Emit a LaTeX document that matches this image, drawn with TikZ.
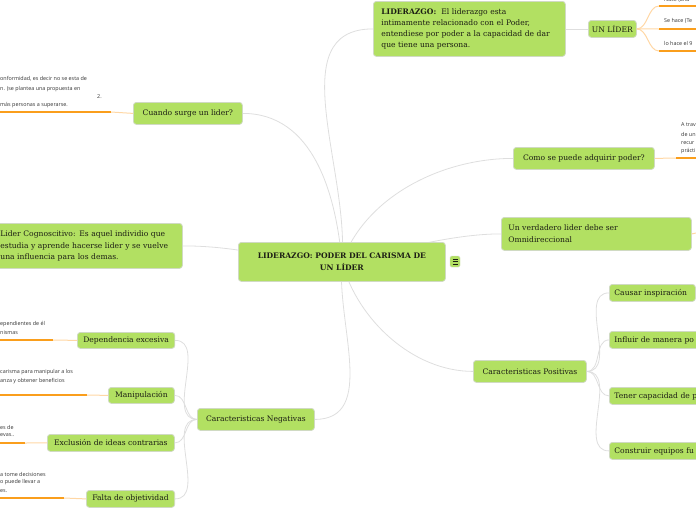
\documentclass[tikz,border=0pt]{standalone}
\usepackage{fontspec}
\setmainfont{DejaVu Serif}
\newfontfamily\notefont{Open Sans}
\usetikzlibrary{backgrounds}
\definecolor{boxgreen}{RGB}{178,224,98}
\definecolor{boxline}{RGB}{208,218,195}
\definecolor{conn}{RGB}{222,222,222}
\definecolor{org}{RGB}{250,158,28}
\definecolor{orgl}{RGB}{255,215,165}
\definecolor{txt}{RGB}{28,30,20}
\begin{document}
\begin{tikzpicture}[x=1pt,y=-1pt,
  box/.style={draw=boxline, line width=0.8pt, fill=boxgreen, rounded corners=3pt,
    text=txt, font=\fontsize{7.6}{11}\selectfont, inner xsep=6pt, inner ysep=0pt, anchor=north west},
  lbox/.style={box, align=left},
  note/.style={font=\notefont\fontsize{5.4}{8}\selectfont, text=black!80, inner sep=0pt, anchor=west},
  conline/.style={draw=conn, line width=0.8pt},
  orgline/.style={draw=org, line width=1.2pt},
  orglight/.style={draw=orgl, line width=1pt}]
\clip (0,0) rectangle (696,520);

% central
\node[box, minimum width=207pt, minimum height=39pt, align=center, font=\bfseries\fontsize{7.6}{12}\selectfont] (c) at (238,242)
  {LIDERAZGO: PODER DEL CARISMA DE\\UN LÍDER};
\node[draw=boxline, fill=boxgreen, rounded corners=1.5pt, minimum width=10pt, minimum height=11pt, inner sep=0pt] (icon) at (455,261.5) {};
\draw[txt, line width=0.7pt] ([xshift=-2.5pt,yshift=-2.5pt]icon.center) -- ++(5,0)
  ([xshift=-2.5pt]icon.center) -- ++(5,0) ([xshift=-2.5pt,yshift=2.5pt]icon.center) -- ++(5,0);

% top
\node[lbox, minimum width=190pt, minimum height=55pt, text width=176pt, inner xsep=8pt] (lid) at (373,1)
  {\textbf{LIDERAZGO:} \ El liderazgo esta\\intimamente relacionado con el Poder,\\entendiese por poder a la capacidad de dar\\que tiene una persona.};
\node[box, minimum width=48pt, minimum height=17pt, inner xsep=3pt] (ul) at (588,20) {UN LÍDER};
\node[note] (ul1) at (664,0) {Nace (and};
\node[note] (ul2) at (664,21) {Se hace (Te};
\node[note] (ul3) at (664,43) {lo hace el 9};
\coordinate (ul1a) at (659,6); \coordinate (ul1b) at (696,6);
\coordinate (ul2a) at (659,29); \coordinate (ul2b) at (696,29);
\coordinate (ul3a) at (659,51); \coordinate (ul3b) at (696,51);

% right side
\node[box, minimum width=141pt, minimum height=22pt] (como) at (513,147) {Como se puede adquirir poder?};
\node[note] (co1) at (681,125) {A trav};
\node[note] (co2) at (681,134) {de un};
\node[note] (co3) at (681,143) {recur};
\node[note] (co4) at (681,151) {prácti};
\coordinate (coa) at (676,158); \coordinate (cob) at (696,158);

\node[lbox, minimum width=190pt, minimum height=33pt, text width=176pt, inner xsep=7pt, font=\fontsize{7.6}{12.5}\selectfont] (ver) at (501,217)
  {Un verdadero lider debe ser\\Omnidireccional};
\coordinate (vera) at (696,233);

\node[box, minimum width=113pt, minimum height=22pt] (pos) at (473,360) {Caracteristicas Positivas};
\node[lbox, minimum width=86pt, minimum height=17pt, text width=76pt, inner xsep=5pt] (p1) at (609,284) {Causar inspiración};
\node[lbox, minimum width=120pt, minimum height=17pt, text width=110pt, inner xsep=5pt] (p2) at (609,331) {Influir de manera po};
\node[lbox, minimum width=120pt, minimum height=17pt, text width=110pt, inner xsep=5pt] (p3) at (609,387) {Tener capacidad de p};
\node[lbox, minimum width=120pt, minimum height=17pt, text width=110pt, inner xsep=5pt] (p4) at (609,442) {Construir equipos fu};

% left side
\node[box, minimum width=109pt, minimum height=22pt] (cu) at (133,102) {Cuando surge un lider?};
\node[note] (cu1) at (0,79) {onformidad, es decir no se esta de};
\node[note] (cu2) at (0,89) {n. (se plantea una propuesta en};
\node[note] (cu3) at (97,97) {2.};
\node[note] (cu4) at (0,105) {más personas a superarse.};
\coordinate (cua) at (111,112); \coordinate (cub) at (0,112);

\node[lbox, minimum width=191pt, minimum height=45pt, text width=172pt, inner xsep=10pt, font=\fontsize{7.6}{11.5}\selectfont] (cog) at (-10,223)
  {Lider Cognoscitivo: Es aquel individio que\\estudia y aprende hacerse lider y se vuelve\\una influencia para los demas.};

\node[box, minimum width=117pt, minimum height=22pt] (neg) at (197,408) {Caracteristicas Negativas};
\node[box, minimum width=97pt, minimum height=16pt] (n1) at (77,332) {Dependencia excesiva};
\node[box, minimum width=66pt, minimum height=16pt] (n2) at (108,387) {Manipulación};
\node[box, minimum width=127pt, minimum height=17pt] (n3) at (47,434) {Exclusión de ideas contrarias};
\node[box, minimum width=88pt, minimum height=17pt] (n4) at (86,490) {Falta de objetividad};

\node[note] (d1) at (0,324) {ependientes de él};
\node[note] (d2) at (0,333) {nismas};
\coordinate (da) at (53,340); \coordinate (db) at (0,340);
\node[note] (m1) at (0,372) {carisma para manipular a los};
\node[note] (m2) at (0,381) {anza y obtener beneficios};
\coordinate (ma) at (87,395); \coordinate (mb) at (0,395);
\node[note] (e1) at (0,427) {es de};
\node[note] (e2) at (0,435) {evas..};
\coordinate (ea) at (25,443); \coordinate (eb) at (0,443);
\node[note] (f1) at (0,474) {a tome decisiones};
\node[note] (f2) at (0,482) {o puede llevar a};
\node[note] (f3) at (0,491) {es.};
\coordinate (fa) at (64,498); \coordinate (fb) at (0,498);

\begin{pgfonlayer}{background}
  \draw[conline] (c.center) to[out=95,in=0,looseness=1] (cu.east);
  \draw[conline] (c.center) to[out=85,in=180,looseness=1] (lid.west);
  \draw[conline] (c.center) to[out=70,in=180,looseness=0.9] (como.west);
  \draw[conline] (c.center) to[out=12,in=180,looseness=0.8] (ver.west);
  \draw[conline] (c.center) to[out=180,in=0] (cog.east);
  \draw[conline] (c.center) to[out=-95,in=0,looseness=1] (neg.east);
  \draw[conline] (c.center) to[out=-75,in=180,looseness=0.9] (pos.west);
  \draw[conline] (lid.east) -- (ul.west);
  \draw[conline] (pos.east) to[out=0,in=180] (p1.west);
  \draw[conline] (pos.east) to[out=0,in=180] (p2.west);
  \draw[conline] (pos.east) to[out=0,in=180] (p3.west);
  \draw[conline] (pos.east) to[out=0,in=180] (p4.west);
  \draw[conline] (neg.west) to[out=180,in=0] (n1.east);
  \draw[conline] (neg.west) to[out=180,in=0] (n2.east);
  \draw[conline] (neg.west) to[out=180,in=0] (n3.east);
  \draw[conline] (neg.west) to[out=180,in=0] (n4.east);
\end{pgfonlayer}

% orange connectors to notes
\draw[orglight] (ul.east) to[out=0,in=180,looseness=0.9] (ul1a);
\draw[orglight] (ul.east) -- (ul2a);
\draw[orglight] (ul.east) to[out=0,in=180,looseness=0.9] (ul3a);
\draw[orgline] (ul1a) -- (ul1b);
\draw[orgline] (ul2a) -- (ul2b);
\draw[orgline] (ul3a) -- (ul3b);
\draw[orglight] (como.east) -- (coa);
\draw[orgline] (coa) -- (cob);
\draw[orglight] (ver.east) -- (vera);
\draw[orglight] (cu.west) -- (cua);
\draw[orgline] (cua) -- (cub);
\draw[orglight] (n1.west) -- (da);
\draw[orgline] (da) -- (db);
\draw[orglight] (n2.west) -- (ma);
\draw[orgline] (ma) -- (mb);
\draw[orglight] (n3.west) -- (ea);
\draw[orgline] (ea) -- (eb);
\draw[orglight] (n4.west) -- (fa);
\draw[orgline] (fa) -- (fb);
\end{tikzpicture}
\end{document}
